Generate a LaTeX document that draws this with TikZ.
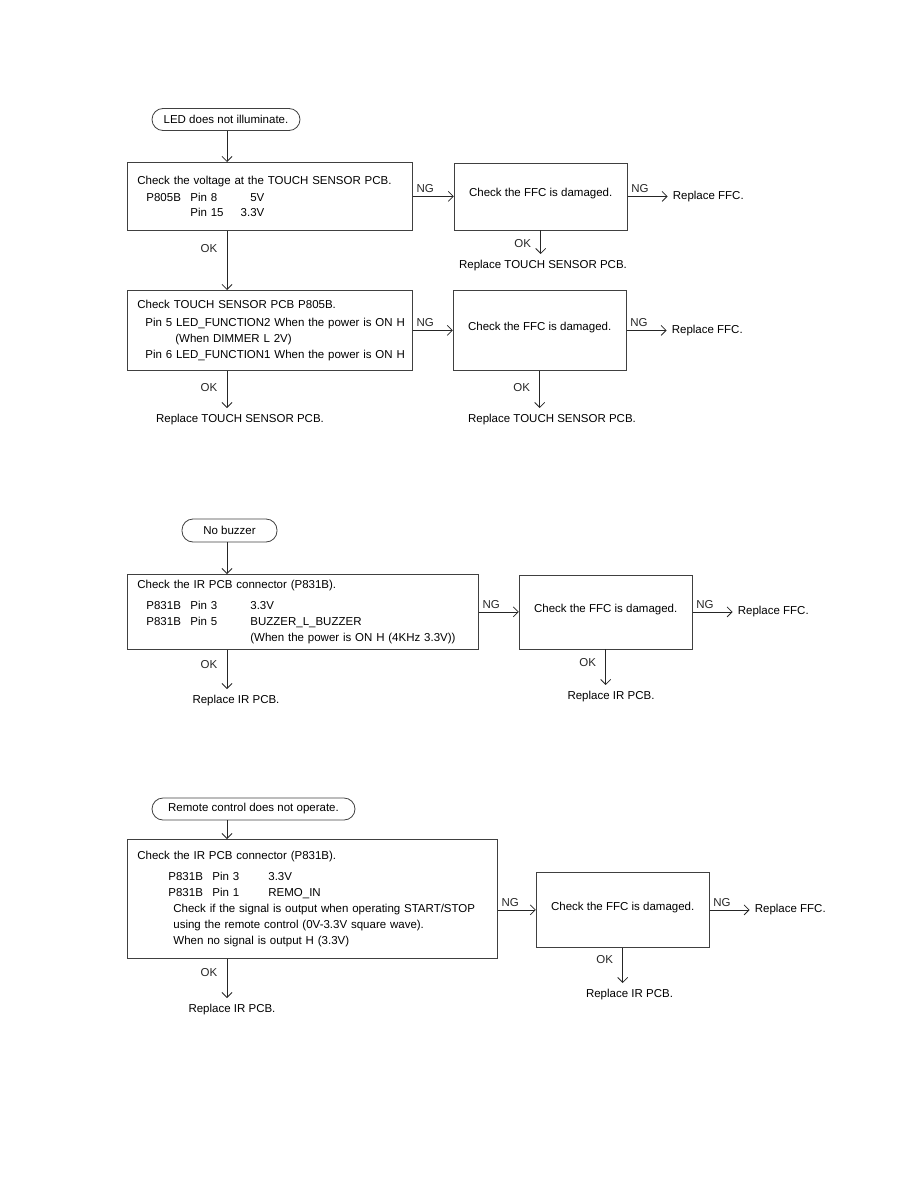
\documentclass[tikz,border=0pt]{standalone}
\usepackage{fontspec}
\setmainfont{Liberation Sans}
\usetikzlibrary{arrows.meta,positioning}

\begin{document}
\begin{tikzpicture}[
    x=1pt, y=-1pt,
    node distance=40pt,
    every node/.style={font=\fontsize{11.5}{16}\selectfont},
    term/.style={draw=black!75, line width=0.8pt, rounded corners=11pt, minimum height=22pt},
    box/.style={draw=black!75, line width=0.8pt, align=left, inner xsep=10pt, anchor=north west},
    ffc/.style={draw=black!75, line width=0.8pt, minimum width=173pt, text height=8pt, text depth=7pt},
    rep/.style={inner xsep=2pt, inner ysep=6pt, anchor=north},
    rfc/.style={inner xsep=5pt},
    arr/.style={-{Straight Barb[length=5pt, width=10pt]}, line width=0.8pt, black!85}
  ]
    \useasboundingbox (0,0) rectangle (918,1188);
    \coordinate (col) at (227,0);

    \node[term, minimum width=148pt] (start1) at (226,119.5) {LED does not illuminate.};
    \node[box, text width=265pt, minimum height=68pt] (chk1) at (127,162)
      {Check the voltage at the TOUCH SENSOR PCB.\\[1pt]
       \hspace*{9pt}\makebox[44pt][l]{P805B}\makebox[44pt][l]{Pin 8}\makebox[30pt][r]{5V}\\[-1pt]
       \hspace*{53pt}\makebox[44pt][l]{Pin 15}\makebox[30pt][r]{3.3V}};
    \node[ffc, right=41pt of chk1, minimum height=67pt] (ffc1) {Check the FFC is damaged.};
    \node[rfc, right=40pt of ffc1] (rfc1) {Replace FFC.};
    \node[rep] (rep1) at (543,254) {Replace TOUCH SENSOR PCB.};

    \node[box, text width=265pt, minimum height=80pt] (chk2) at (127,290)
      {Check TOUCH SENSOR PCB P805B.\\[2pt]
       \hspace*{8pt}\mbox{Pin 5 LED\_FUNCTION2 When the power is ON H}\\
       \hspace*{38pt}(When DIMMER L 2V)\\
       \hspace*{8pt}\mbox{Pin 6 LED\_FUNCTION1 When the power is ON H}};
    \node[ffc, right=40pt of chk2, minimum height=80pt] (ffc2) {Check the FFC is damaged.};
    \node[rfc, right=40pt of ffc2] (rfc2) {Replace FFC.};
    \node[rep] (rep2) at (240,408) {Replace TOUCH SENSOR PCB.};
    \node[rep] (rep3) at (552,408) {Replace TOUCH SENSOR PCB.};

    \draw[arr] (start1.south -| col) -- (col |- chk1.north);
    \draw[arr] (chk1) -- node[above right, pos=0] {NG} (ffc1);
    \draw[arr] (ffc1) -- node[above right, pos=0] {NG} (rfc1);
    \draw[arr] (ffc1) -- node[left=6pt, pos=0.54] {OK} (ffc1.south |- rep1.north);
    \draw[arr] (col |- chk1.south) -- node[left=6pt, pos=0.3] {OK} (col |- chk2.north);
    \draw[arr] (chk2) -- node[above right, pos=0] {NG} (ffc2);
    \draw[arr] (ffc2) -- node[above right, pos=0] {NG} (rfc2);
    \draw[arr] (col |- chk2.south) -- node[left=6pt, pos=0.45] {OK} (col |- rep2.north);
    \draw[arr] (ffc2) -- node[left=6pt, pos=0.45] {OK} (ffc2.south |- rep3.north);

    \node[term, minimum width=95pt, minimum height=23pt] (start2) at (229.5,530.5) {No buzzer};
    \node[box, text width=331pt, minimum height=75pt] (chk3) at (127,574)
      {Check the IR PCB connector (P831B).\\[5pt]
       \hspace*{9pt}\makebox[44pt][l]{P831B}\makebox[60pt][l]{Pin 3}3.3V\\
       \hspace*{9pt}\makebox[44pt][l]{P831B}\makebox[60pt][l]{Pin 5}BUZZER\_L\_BUZZER\\
       \hspace*{113pt}(When the power is ON H (4KHz 3.3V))};
    \node[ffc, right=40pt of chk3, minimum height=74pt] (ffc3) {Check the FFC is damaged.};
    \node[rfc, right=40pt of ffc3] (rfc3) {Replace FFC.};
    \node[rep] (rep4) at (611,685) {Replace IR PCB.};
    \node[rep] (rep5) at (236,689) {Replace IR PCB.};

    \draw[arr] (start2.south -| col) -- (col |- chk3.north);
    \draw[arr] (chk3) -- node[above right, pos=0] {NG} (ffc3);
    \draw[arr] (ffc3) -- node[above right, pos=0] {NG} (rfc3);
    \draw[arr] (ffc3) -- node[left=6pt, pos=0.38] {OK} (ffc3.south |- rep4.north);
    \draw[arr] (col |- chk3.south) -- node[left=6pt, pos=0.37] {OK} (col |- rep5.north);

    \node[term, minimum width=203pt] (start3) at (253.5,809) {Remote control does not operate.};
    \node[box, text width=350pt, minimum height=119pt] (chk4) at (127,839)
      {Check the IR PCB connector (P831B).\\[5pt]
       \hspace*{31pt}\makebox[44pt][l]{P831B}\makebox[56pt][l]{Pin 3}3.3V\\
       \hspace*{31pt}\makebox[44pt][l]{P831B}\makebox[56pt][l]{Pin 1}REMO\_IN\\
       \hspace*{36pt}Check if the signal is output when operating START/STOP\\
       \hspace*{36pt}using the remote control (0V-3.3V square wave).\\
       \hspace*{36pt}When no signal is output H (3.3V)};
    \node[ffc, right=38pt of chk4, yshift=-11pt, minimum height=75pt] (ffc4) {Check the FFC is damaged.};
    \node[rfc, right=40pt of ffc4] (rfc4) {Replace FFC.};
    \node[rep] (rep6) at (629.5,983) {Replace IR PCB.};
    \node[rep] (rep7) at (232,998) {Replace IR PCB.};

    \draw[arr] (start3.south -| col) -- (col |- chk4.north);
    \draw[arr] (chk4.east |- ffc4) -- node[above right, pos=0] {NG} (ffc4);
    \draw[arr] (ffc4) -- node[above right, pos=0] {NG} (rfc4);
    \draw[arr] (ffc4) -- node[left=6pt, pos=0.33] {OK} (ffc4.south |- rep6.north);
    \draw[arr] (col |- chk4.south) -- node[left=6pt, pos=0.35] {OK} (col |- rep7.north);
  \end{tikzpicture}
\end{document}
